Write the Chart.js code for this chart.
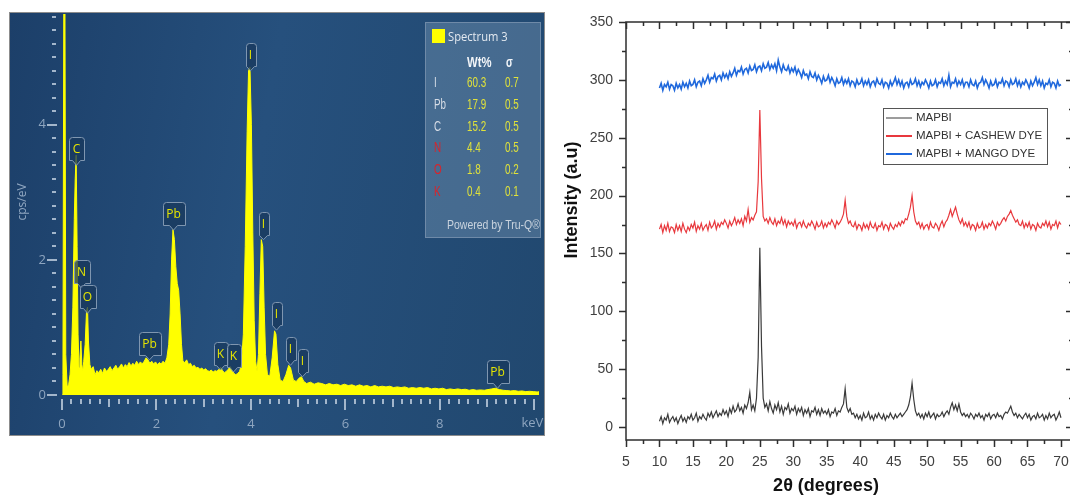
<!DOCTYPE html>
<html>
<head>
<meta charset="utf-8">
<script src="https://cdn.jsdelivr.net/npm/chart.js@4.4.0/dist/chart.umd.min.js"></script>
<style>
  html, body { margin: 0; padding: 0; background: #fff; width: 1070px; height: 496px; overflow: hidden; position: relative; }
  #edsPanel { position: absolute; left: 9px; top: 12px; width: 536px; height: 424px; box-sizing: border-box;
    border: 1px solid #8c8c8c; background: linear-gradient(100deg, #1c3f69 0%, #26507d 45%, #21486f 100%); }
  #edsCanvas { position: absolute; left: 9px; top: 12px; }
  #xrdCanvas { position: absolute; left: 560px; top: 0px; }
  #info { position: absolute; left: 425px; top: 22px; width: 116px; height: 216px; box-sizing: border-box;
    background: rgba(130, 160, 190, 0.38); border: 1px solid #6f8aa8; font-family: "Liberation Sans", sans-serif; }
  #info .t { position: absolute; white-space: nowrap; font-size: 14.5px; line-height: 16px; transform-origin: 0 0; transform: scaleX(0.68); }
  #info .sw { position: absolute; left: 6px; top: 6px; width: 13px; height: 14px; background: #ffff00; }
</style>
</head>
<body>
<div id="edsPanel"></div>
<canvas id="edsCanvas" width="536" height="424"></canvas>
<div id="info"></div>
<canvas id="xrdCanvas" width="520" height="496"></canvas>
<script>
// ---- EDS spectrum (left) ----
const edsEnergy = [
  0, 0.02, 0.04, 0.06, 0.08, 0.11, 0.14, 0.17, 0.20, 0.23, 0.26, 0.28, 0.30, 0.32, 0.34, 0.36, 0.38, 0.40, 0.42, 0.44,
  0.46, 0.49, 0.52, 0.54, 0.56, 0.59, 0.62, 0.66, 0.70, 0.74, 0.78, 0.82, 0.86, 0.90, 0.94, 0.98, 1.02, 1.06, 1.10, 1.14,
  1.18, 1.22, 1.26, 1.30, 1.34, 1.38, 1.42, 1.46, 1.50, 1.54, 1.58, 1.62, 1.66, 1.70, 1.74, 1.78, 1.82, 1.86, 1.90, 1.94,
  1.98, 2.02, 2.06, 2.10, 2.14, 2.18, 2.22, 2.26, 2.29, 2.32, 2.35, 2.38, 2.41, 2.44, 2.47, 2.50, 2.53, 2.56, 2.60, 2.64,
  2.68, 2.72, 2.76, 2.80, 2.84, 2.88, 2.92, 2.96, 3.00, 3.04, 3.08, 3.12, 3.16, 3.20, 3.24, 3.28, 3.32, 3.36, 3.40, 3.44,
  3.48, 3.52, 3.56, 3.60, 3.64, 3.68, 3.72, 3.76, 3.80, 3.84, 3.88, 3.92, 3.95, 3.98, 4.01, 4.04, 4.07, 4.10, 4.13, 4.16,
  4.19, 4.22, 4.25, 4.28, 4.31, 4.35, 4.40, 4.45, 4.50, 4.53, 4.57, 4.62, 4.68, 4.74, 4.80, 4.84, 4.90, 4.96, 5.02, 5.07,
  5.12, 5.18, 5.26, 5.34, 5.42, 5.50, 5.58, 5.66, 5.74, 5.82, 5.90, 5.98, 6.06, 6.14, 6.22, 6.30, 6.38, 6.46, 6.54, 6.62,
  6.70, 6.78, 6.86, 6.94, 7.02, 7.10, 7.18, 7.26, 7.34, 7.42, 7.50, 7.58, 7.66, 7.74, 7.82, 7.90, 7.98, 8.06, 8.14, 8.22,
  8.30, 8.38, 8.46, 8.54, 8.62, 8.70, 8.78, 8.86, 8.94, 9.02, 9.10, 9.18, 9.26, 9.34, 9.42, 9.50, 9.58, 9.66, 9.74, 9.82,
  9.90, 9.98, 10.06, 10.12
];
const edsCounts = [
  0, 0.3, 6.5, 6.5, 0.6, 0.12, 0.15, 0.3, 0.6, 1.3, 2.6, 3.2, 3.55, 2.2, 0.9, 0.4, 0.55, 0.8, 0.45, 0.35,
  0.5, 0.75, 1.25, 1.3, 0.8, 0.45, 0.38, 0.42, 0.3, 0.36, 0.33, 0.38, 0.32, 0.4, 0.35, 0.38, 0.42, 0.36, 0.4, 0.44,
  0.38, 0.42, 0.46, 0.4, 0.45, 0.42, 0.48, 0.43, 0.47, 0.44, 0.5, 0.45, 0.49, 0.46, 0.5, 0.55, 0.52, 0.47, 0.5, 0.46,
  0.49, 0.45, 0.48, 0.46, 0.5, 0.47, 0.55, 0.75, 1.2, 2.0, 2.45, 2.3, 1.9, 1.65, 1.55, 1.2, 0.75, 0.5, 0.48, 0.52,
  0.45, 0.47, 0.42, 0.44, 0.4, 0.41, 0.38, 0.4, 0.37, 0.39, 0.36, 0.35, 0.37, 0.34, 0.36, 0.35, 0.38, 0.41, 0.36, 0.33,
  0.35, 0.38, 0.42, 0.37, 0.32, 0.3, 0.32, 0.35, 0.45, 0.9, 2.2, 3.9, 4.8, 4.85, 4.0, 2.4, 1.1, 0.5, 0.35, 0.6,
  1.5, 2.3, 2.2, 1.3, 0.6, 0.3, 0.28, 0.55, 0.95, 0.9, 0.45, 0.22, 0.2, 0.3, 0.44, 0.4, 0.22, 0.2, 0.25, 0.27,
  0.2, 0.17, 0.19, 0.16, 0.18, 0.17, 0.15, 0.17, 0.15, 0.16, 0.14, 0.16, 0.14, 0.15, 0.13, 0.15, 0.13, 0.14, 0.12, 0.14,
  0.12, 0.13, 0.12, 0.13, 0.11, 0.12, 0.11, 0.12, 0.1, 0.11, 0.1, 0.11, 0.1, 0.11, 0.09, 0.1, 0.09, 0.1, 0.08, 0.09,
  0.08, 0.09, 0.08, 0.085, 0.07, 0.08, 0.07, 0.075, 0.07, 0.08, 0.09, 0.1, 0.08, 0.07, 0.065, 0.06, 0.065, 0.055, 0.06, 0.05,
  0.055, 0.05, 0.045, 0.05
];
const edsXTicks = [0, 2, 4, 6, 8];
const edsYTicks = [0, 2, 4];
const edsUnit = 'keV';
// peak markers: element, energy (keV), marker tip (cps/eV)
const peakText = ['C', 'N', 'O', 'Pb', 'Pb', 'K', 'K', 'I', 'I', 'I', 'I', 'I', 'Pb'];
const peakEnergy = [0.30, 0.40, 0.53, 1.84, 2.35, 3.35, 3.62, 3.98, 4.26, 4.53, 4.83, 5.08, 9.22];
const peakTip = [3.4, 1.58, 1.21, 0.52, 2.44, 0.37, 0.34, 4.8, 2.3, 0.96, 0.44, 0.27, 0.1];
// quantification table
const elements = ['I', 'Pb', 'C', 'N', 'O', 'K'];
const wtPercent = ['60.3', '17.9', '15.2', '4.4', '1.8', '0.4'];
const sigma = ['0.7', '0.5', '0.5', '0.5', '0.2', '0.1'];
const flaggedElements = ['N', 'O', 'K'];

// ---- XRD patterns (right) ----
const xrdStart = 10, xrdStep = 0.25;
const mapbi = [
  5, 9, 3, 8,  6, 11, 4, 7,  9, 5, 8, 3,  7, 10, 5, 8,  4, 9, 7, 11,           // 10-14
  6, 8, 12, 5,  9, 7, 11, 8,  6, 12, 9, 13,  8, 11, 14, 9,  12, 10, 15, 11,    // 15-19
  14, 9, 16, 12,  18, 13, 15, 20,  14, 17, 12, 19,  16, 21, 30, 15,  19, 14, 25, 60, // 20-24
  155, 70, 25, 17,  20, 14, 22, 16,  12, 19, 15, 21,  13, 18, 11, 17,  15, 20, 12, 16, // 25-29
  14, 18, 11, 16,  13, 17, 10, 15,  12, 16, 9, 14,  13, 17, 11, 15,  10, 16, 12, 14, // 30-34
  11, 15, 9, 13,  12, 16, 10, 14,  13, 17, 20, 33,  17, 13, 16, 11,  12, 8, 11, 7,   // 35-39
  10, 6, 12, 8,  9, 13, 7, 10,  6, 11, 8, 12,  9, 7, 11, 6,  10, 8, 12, 9,           // 40-44
  7, 11, 8, 10,  12, 9, 11, 13,  15, 19, 26, 38,  24, 14, 10, 12,  8, 11, 7, 12,     // 45-49
  9, 13, 8, 10,  12, 7, 11, 9,  10, 13, 9, 12,  14, 11, 17, 21,  15, 19, 14, 20,     // 50-54
  13, 10, 12, 9,  11, 8, 12, 10,  7, 11, 9, 12,  8, 10, 6, 11,  9, 12, 7, 10,        // 55-59
  11, 8, 12, 9,  10, 7, 11, 13,  12, 15, 18, 13,  10, 12, 8, 11,  9, 7, 10, 12,      // 60-64
  8, 11, 6, 9,  10, 7, 12, 8,  9, 11, 6, 10,  7, 12, 8, 10,  11, 6, 9, 13,           // 65-69
  8                                                                                  // 70
];
const cashew = [
  171, 175, 168, 174,  170, 176, 169, 173,  172, 168, 175, 170,  174, 169, 176, 171,  168, 173, 170, 175,
  172, 177, 169, 174,  171, 176, 170, 173,  175, 170, 177, 172,  174, 178, 171, 176,  173, 177, 175, 179,
  176, 172, 178, 174,  177, 181, 175, 179,  176, 180, 174, 182,  178, 188, 177, 181,  179, 183, 186, 212,
  274, 215, 182, 178,  180, 176, 181, 177,  175, 180, 174, 178,  176, 181, 175, 179,  173, 178, 175, 177,
  174, 179, 172, 176,  177, 173, 178, 174,  172, 176, 174, 178,  175, 171, 177, 173,  174, 178, 172, 176,
  173, 177, 175, 179,  176, 172, 178, 175,  177, 180, 184, 196,  182, 176, 178, 174,  173, 177, 171, 175,
  174, 170, 176, 172,  175, 171, 177, 173,  172, 176, 170, 174,  173, 177, 171, 175,  174, 170, 176, 173,
  171, 175, 173, 177,  174, 178, 176, 180,  179, 184, 190, 200,  186, 178, 175, 177,  172, 176, 171, 174,
  175, 171, 177, 173,  172, 176, 174, 170,  175, 178, 173, 177,  179, 183, 188, 182,  186, 190, 184, 179,
  176, 180, 174, 177,  173, 177, 171, 175,  174, 170, 176, 172,  173, 177, 171, 175,  172, 176, 174, 178,
  175, 171, 177, 174,  176, 179, 181, 178,  182, 184, 187, 183,  180, 177, 179, 175,  174, 178, 172, 176,
  173, 177, 171, 175,  174, 170, 176, 173,  172, 176, 174, 178,  173, 177, 171, 175,  174, 178, 172, 177,
  175
];
const mango = [
  293, 297, 291, 296,  294, 298, 292, 296,  295, 291, 297, 293,  296, 292, 298, 294,  297, 293, 299, 295,
  296, 300, 294, 298,  299, 295, 301, 297,  300, 304, 298, 302,  301, 305, 299, 303,  304, 300, 306, 302,
  305, 301, 307, 303,  306, 310, 304, 308,  307, 311, 305, 309,  310, 306, 312, 308,  309, 313, 307, 311,
  312, 308, 314, 310,  311, 315, 309, 313,  310, 314, 308, 317,  311, 307, 313, 309,  308, 312, 306, 310,
  307, 311, 305, 309,  306, 302, 308, 304,  305, 301, 307, 303,  302, 306, 300, 304,  301, 297, 303, 299,
  300, 304, 298, 302,  299, 295, 301, 297,  298, 302, 296, 300,  297, 301, 295, 299,  298, 294, 300, 296,
  297, 301, 295, 299,  296, 300, 294, 298,  299, 295, 301, 297,  296, 300, 294, 298,  297, 293, 299, 295,
  298, 302, 296, 300,  295, 299, 293, 297,  298, 294, 300, 296,  297, 301, 295, 299,  294, 298, 296, 300,
  297, 293, 299, 295,  296, 300, 294, 298,  297, 301, 295, 299,  296, 304, 294, 298,  297, 301, 295, 299,
  296, 300, 294, 298,  298, 294, 300, 296,  295, 299, 293, 297,  298, 302, 296, 300,  297, 293, 299, 295,
  296, 300, 294, 298,  297, 301, 295, 299,  298, 294, 300, 296,  297, 301, 295, 299,  294, 298, 296, 300,
  297, 293, 299, 295,  298, 302, 296, 300,  295, 299, 293, 297,  296, 300, 294, 298,  297, 293, 299, 295,
  296
];
const xrdXTicks = [5, 10, 15, 20, 25, 30, 35, 40, 45, 50, 55, 60, 65, 70];
const xrdYTicks = [0, 50, 100, 150, 200, 250, 300, 350];
const seriesNames = ['MAPBI', 'MAPBI + CASHEW DYE', 'MAPBI + MANGO DYE'];
const seriesColors = ['#3a3a3a', '#e8383d', '#1f68dc'];

// quantification box
(function buildInfo() {
  var box = document.getElementById('info');
  var html = '<div class="sw"></div>' +
    '<div class="t" style="left:22px;top:5px;color:#e3e9f0;font-family:\'Open Sans\',sans-serif;font-size:13px;transform:scaleX(0.86)">Spectrum 3</div>' +
    '<div class="t" style="left:41px;top:31px;color:#f2f5f8;font-weight:bold;transform:scaleX(0.78)">Wt%</div>' +
    '<div class="t" style="left:80px;top:31px;color:#f2f5f8;font-weight:bold">σ</div>';
  elements.forEach(function(el, i) {
    var top = 51 + i * 21.8;
    var c = flaggedElements.indexOf(el) >= 0 ? '#d9242b' : '#d6dde6';
    html += '<div class="t" style="left:8px;top:' + top + 'px;color:' + c + '">' + el + '</div>';
    html += '<div class="t" style="left:41px;top:' + top + 'px;color:#e0e23a">' + wtPercent[i] + '</div>';
    html += '<div class="t" style="left:79px;top:' + top + 'px;color:#e0e23a">' + sigma[i] + '</div>';
  });
  html += '<div class="t" style="left:21px;top:194px;color:#c9d3de;font-size:12.5px;transform:scaleX(0.84)">Powered by Tru-Q®</div>';
  box.innerHTML = html;
})();

function noScalePadding(s) {
  s.paddingLeft = 0; s.paddingRight = 0; s.paddingTop = 0; s.paddingBottom = 0;
}

// tick marks, axis label and peak markers for the EDS panel
const edsDecor = {
  id: 'edsDecor',
  afterDraw(chart) {
    var ctx = chart.ctx, a = chart.chartArea, x = chart.scales.x, y = chart.scales.y;
    ctx.save();
    ctx.fillStyle = '#a3b6cb';
    for (var i = 0; i <= 50; i++) {
      var px = Math.round(x.getPixelForValue(i * 0.2));
      var len = i % 10 === 0 ? 11 : (i % 5 === 0 ? 8 : 5);
      ctx.fillRect(px - 1, a.bottom + 4, 2, len);
    }
    for (var j = 0; j <= 28; j++) {
      var py = Math.round(y.getPixelForValue(j * 0.2));
      if (j % 10 === 0) ctx.fillRect(a.left - 15, py - 1, 10, 2);
      else ctx.fillRect(a.left - 10, py - 1, 4, 2);
    }
    // unit label sits where the "10" tick label would be
    ctx.fillStyle = '#8ea5bf';
    ctx.font = '13px "Open Sans"';
    ctx.textAlign = 'right';
    ctx.textBaseline = 'middle';
    ctx.fillText(edsUnit, x.getPixelForValue(10) + 9, a.bottom + 28);

    ctx.translate(14, 190);
    ctx.rotate(-Math.PI / 2);
    ctx.fillStyle = '#8fa6c0';
    ctx.font = '12px "Open Sans"';
    ctx.textAlign = 'center';
    ctx.fillText('cps/eV', 0, 0);
    ctx.restore();

    ctx.save();
    ctx.font = '12px "Open Sans"';
    ctx.textAlign = 'center';
    ctx.textBaseline = 'middle';
    peakText.forEach(function(t, k) {
      var tx = Math.round(x.getPixelForValue(peakEnergy[k])) + 0.5;
      var ty = y.getPixelForValue(peakTip[k]);
      var w = Math.round(ctx.measureText(t).width) + 7, h = 23, p = 5;
      var top = Math.round(ty - p - h) + 0.5, left = Math.round(tx - w / 2) + 0.5;
      ctx.beginPath();
      ctx.moveTo(left + 3, top);
      ctx.lineTo(left + w - 3, top);
      ctx.quadraticCurveTo(left + w, top, left + w, top + 3);
      ctx.lineTo(left + w, top + h);
      ctx.lineTo(tx + 4, top + h);
      ctx.lineTo(tx, ty);
      ctx.lineTo(tx - 4, top + h);
      ctx.lineTo(left, top + h);
      ctx.lineTo(left, top + 3);
      ctx.quadraticCurveTo(left, top, left + 3, top);
      ctx.closePath();
      ctx.fillStyle = 'rgba(24, 56, 92, 0.75)';
      ctx.fill();
      ctx.strokeStyle = '#7f96b0';
      ctx.lineWidth = 1;
      ctx.stroke();
      ctx.fillStyle = '#e6e600';
      ctx.fillText(t, tx, top + h / 2 + 1);
    });
    ctx.restore();
  }
};

new Chart(document.getElementById('edsCanvas'), {
  type: 'line',
  data: {
    datasets: [{
      data: edsEnergy.map(function(e, i) { return { x: e, y: edsCounts[i] }; }),
      borderColor: '#ffff00',
      backgroundColor: '#ffff00',
      borderWidth: 1,
      pointRadius: 0,
      fill: 'origin',
      tension: 0
    }]
  },
  options: {
    responsive: false,
    animation: false,
    layout: { padding: { left: 0, top: 2, right: 6, bottom: 0 } },
    plugins: { legend: { display: false }, tooltip: { enabled: false } },
    scales: {
      x: {
        type: 'linear', min: 0, max: 10.1,
        grid: { display: false, drawTicks: false }, border: { display: false },
        afterFit: function(s) { s.height = 41; noScalePadding(s); },
        afterBuildTicks: function(s) { s.ticks = edsXTicks.map(function(v) { return { value: v }; }); },
        ticks: { color: '#8ea5bf', font: { family: 'Open Sans', size: 13 }, padding: 21, maxRotation: 0 }
      },
      y: {
        min: 0, max: 5.64,
        grid: { display: false, drawTicks: false }, border: { display: false },
        afterFit: function(s) { s.width = 53; noScalePadding(s); },
        afterBuildTicks: function(s) { s.ticks = edsYTicks.map(function(v) { return { value: v }; }); },
        ticks: { color: '#8ea5bf', font: { family: 'Open Sans', size: 13 }, padding: 16 }
      }
    }
  },
  plugins: [edsDecor]
});

// frame, ticks, titles and legend for the XRD panel
const xrdDecor = {
  id: 'xrdDecor',
  afterDraw(chart) {
    var ctx = chart.ctx, a = chart.chartArea, x = chart.scales.x, y = chart.scales.y;
    ctx.save();
    ctx.strokeStyle = '#2e2e2e';
    ctx.lineWidth = 1.5;
    ctx.strokeRect(a.left, a.top, a.right - a.left, a.bottom - a.top);
    ctx.beginPath();
    for (var v = 5; v <= 70; v += 2.5) {
      var px = Math.round(x.getPixelForValue(v)) + 0.5;
      var major = v % 5 === 0;
      ctx.moveTo(px, a.bottom); ctx.lineTo(px, a.bottom + (major ? 7 : 4));
      ctx.moveTo(px, a.top); ctx.lineTo(px, a.top + (major ? 7 : 4));
    }
    for (var w = 0; w <= 350; w += 25) {
      var py = Math.round(y.getPixelForValue(w)) + 0.5;
      var maj = w % 50 === 0;
      ctx.moveTo(a.left, py); ctx.lineTo(a.left - (maj ? 7 : 4), py);
      ctx.moveTo(a.right, py); ctx.lineTo(a.right - (maj ? 7 : 4), py);
    }
    ctx.stroke();

    ctx.fillStyle = '#111';
    ctx.font = 'bold 18px "Liberation Sans"';
    ctx.textAlign = 'center';
    ctx.textBaseline = 'middle';
    ctx.fillText('2θ (degrees)', a.left + 200, 486);
    ctx.save();
    ctx.translate(12, 200);
    ctx.rotate(-Math.PI / 2);
    ctx.fillText('Intensity (a.u)', 0, 0);
    ctx.restore();

    // legend
    var lx = a.left + 257, ly = a.top + 86, lw = 164, lh = 56;
    ctx.fillStyle = '#fff';
    ctx.fillRect(lx, ly, lw, lh);
    ctx.strokeStyle = '#555';
    ctx.lineWidth = 1;
    ctx.strokeRect(lx + 0.5, ly + 0.5, lw, lh);
    ctx.font = '11.5px "Liberation Sans"';
    ctx.textAlign = 'left';
    chart.data.datasets.forEach(function(ds, i) {
      var ry = ly + 10 + i * 18;
      ctx.strokeStyle = ds.borderColor;
      ctx.lineWidth = i === 0 ? 1 : 2;
      ctx.beginPath();
      ctx.moveTo(lx + 3, ry); ctx.lineTo(lx + 29, ry);
      ctx.stroke();
      ctx.fillStyle = '#333';
      ctx.fillText(ds.label, lx + 33, ry);
    });
    ctx.restore();
  }
};

function xrdPoints(vals) {
  return vals.map(function(v, i) { return { x: xrdStart + i * xrdStep, y: v }; });
}

new Chart(document.getElementById('xrdCanvas'), {
  type: 'line',
  data: {
    datasets: [mapbi, cashew, mango].map(function(vals, i) {
      return {
        label: seriesNames[i],
        data: xrdPoints(vals),
        borderColor: seriesColors[i],
        borderWidth: i === 2 ? 1.6 : 1.2,
        pointRadius: 0,
        tension: 0
      };
    })
  },
  options: {
    responsive: false,
    animation: false,
    layout: { padding: { left: 0, top: 22, right: 7, bottom: 0 } },
    plugins: { legend: { display: false }, tooltip: { enabled: false } },
    scales: {
      x: {
        type: 'linear', min: 5, max: 71.8,
        grid: { display: false, drawTicks: false }, border: { display: false },
        afterFit: function(s) { s.height = 56; noScalePadding(s); },
        afterBuildTicks: function(s) { s.ticks = xrdXTicks.map(function(v) { return { value: v }; }); },
        ticks: { color: '#404040', font: { family: 'Liberation Sans', size: 14 }, padding: 14, maxRotation: 0 }
      },
      y: {
        min: -11.2, max: 350,
        grid: { display: false, drawTicks: false }, border: { display: false },
        afterFit: function(s) { s.width = 66; noScalePadding(s); },
        afterBuildTicks: function(s) { s.ticks = xrdYTicks.map(function(v) { return { value: v }; }); },
        ticks: { color: '#404040', font: { family: 'Liberation Sans', size: 14 }, padding: 13 }
      }
    }
  },
  plugins: [xrdDecor]
});
</script>
</body>
</html>
